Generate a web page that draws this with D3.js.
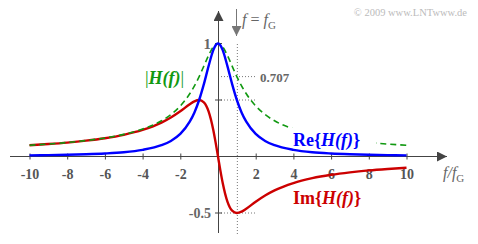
<!DOCTYPE html>
<html>
<head>
<meta charset="utf-8">
<title>H(f) Tiefpass</title>
<script src="https://cdn.jsdelivr.net/npm/d3@7"></script>
<style>
  body { margin: 0; background: #fff; }
  text { font-family: "Liberation Serif", "DejaVu Serif", serif; }
</style>
</head>
<body>
<div id="chart"></div>
<script>
// normalized frequency f/fG and the values
var fx   = [-10, -9, -8, -7, -6, -5, -4, -3, -2.5, -2, -1.5, -1.25, -1, -0.75, -0.5, -0.25, -0.125,
            0, 0.125, 0.25, 0.5, 0.75, 1, 1.25, 1.5, 2, 2.5, 3, 4, 5, 6, 7, 8, 9, 10];
var reH  = [0.010, 0.012, 0.015, 0.020, 0.027, 0.038, 0.059, 0.100, 0.138, 0.200, 0.308, 0.390, 0.500, 0.640, 0.800, 0.941, 0.985,
            1.000, 0.985, 0.941, 0.800, 0.640, 0.500, 0.390, 0.308, 0.200, 0.138, 0.100, 0.059, 0.038, 0.027, 0.020, 0.015, 0.012, 0.010];
var imH  = [0.099, 0.110, 0.123, 0.140, 0.162, 0.192, 0.235, 0.300, 0.345, 0.400, 0.462, 0.488, 0.500, 0.480, 0.400, 0.235, 0.123,
            0.000, -0.123, -0.235, -0.400, -0.480, -0.500, -0.488, -0.462, -0.400, -0.345, -0.300, -0.235, -0.192, -0.162, -0.140, -0.123, -0.110, -0.099];
var absH = [0.0995, 0.110, 0.124, 0.141, 0.164, 0.196, 0.243, 0.316, 0.371, 0.447, 0.555, 0.625, 0.707, 0.800, 0.894, 0.970, 0.992,
            1.000, 0.992, 0.970, 0.894, 0.800, 0.707, 0.625, 0.555, 0.447, 0.371, 0.316, 0.243, 0.196, 0.164, 0.141, 0.124, 0.110, 0.0995];
var xTicks = [-10, -8, -6, -4, -2, 2, 4, 6, 8, 10];

var width = 478, height = 244;
var x = d3.scaleLinear().domain([-10, 10]).range([29.5, 406.5]);
var y = d3.scaleLinear().domain([0, 1]).range([156.5, 43.5]);

var svg = d3.select('#chart').append('svg')
    .attr('width', width)
    .attr('height', height);

var axisCol = '#444', grey = '#666';

// arrow markers
function marker(id, col) {
    svg.append('defs').append('marker')
        .attr('id', id)
        .attr('viewBox', '0 0 10 10')
        .attr('refX', 10).attr('refY', 5)
        .attr('markerWidth', 10).attr('markerHeight', 10)
        .attr('markerUnits', 'userSpaceOnUse')
        .attr('orient', 'auto')
        .append('path').attr('d', 'M0,0 L10,5 L0,10 Z').attr('fill', col);
}
marker('arr', axisCol);
marker('arrG', '#777');

// dotted guide lines
var dot = svg.append('g').attr('stroke', '#777').attr('stroke-width', 1).attr('stroke-dasharray', '1,2');
dot.append('line').attr('x1', x(1) + 0.5).attr('x2', x(1) + 0.5).attr('y1', 44).attr('y2', 234);
dot.append('line').attr('x1', x(0)).attr('x2', 256).attr('y1', y(0.707)).attr('y2', y(0.707));
dot.append('line').attr('x1', x(0)).attr('x2', 256).attr('y1', y(0.5)).attr('y2', y(0.5));
dot.append('line').attr('x1', x(0)).attr('x2', 256).attr('y1', y(-0.5)).attr('y2', y(-0.5));

// axes lines with arrows
svg.append('line').attr('x1', 10).attr('x2', 447).attr('y1', y(0)).attr('y2', y(0))
    .attr('stroke', axisCol).attr('stroke-width', 1).attr('marker-end', 'url(#arr)');
svg.append('line').attr('x1', x(0) + 0.5).attr('x2', x(0) + 0.5).attr('y1', 233).attr('y2', 11)
    .attr('stroke', axisCol).attr('stroke-width', 1).attr('marker-end', 'url(#arr)');

// x axis ticks and labels
var xAxis = svg.append('g')
    .attr('transform', 'translate(0,' + y(0) + ')')
    .call(d3.axisBottom(x).tickValues(xTicks).tickSize(3).tickPadding(10).tickFormat(function(d) { return String(d); }));
xAxis.select('.domain').remove();
xAxis.selectAll('.tick line').attr('y1', -3).attr('stroke', axisCol);
xAxis.selectAll('.tick text')
    .attr('fill', '#555')
    .style('font-family', '"Liberation Serif", serif')
    .style('font-size', '14px')
    .style('font-weight', 'bold');

// y ticks
svg.selectAll('.ytick').data([1, 0.5, -0.5]).enter().append('line')
    .attr('x1', x(0) - 3).attr('x2', x(0) + 4)
    .attr('y1', function(d) { return y(d); }).attr('y2', function(d) { return y(d); })
    .attr('stroke', axisCol);

svg.append('text').attr('x', 211).attr('y', y(1) + 5).attr('text-anchor', 'end')
    .attr('fill', grey).style('font-size', '15px').style('font-weight', 'bold').text('1');
svg.append('text').attr('x', 211).attr('y', y(-0.5) + 5).attr('text-anchor', 'end')
    .attr('fill', grey).style('font-size', '14px').style('font-weight', 'bold').text('-0.5');
svg.append('text').attr('x', 260).attr('y', y(0.707) + 5)
    .attr('fill', grey).style('font-size', '13px').style('font-weight', 'bold').text('0.707');

// f = fG marker
svg.append('line').attr('x1', 236.5).attr('x2', 236.5).attr('y1', 9).attr('y2', 36)
    .attr('stroke', '#777').attr('stroke-width', 1).attr('marker-end', 'url(#arrG)');
var fg = svg.append('text').attr('x', 242).attr('y', 25).attr('fill', grey).style('font-size', '16px');
fg.append('tspan').style('font-style', 'italic').text('f');
fg.append('tspan').text(' = ');
fg.append('tspan').style('font-style', 'italic').text('f');
fg.append('tspan').attr('dy', 4).style('font-size', '11px').text('G');

// axis label f/fG
var fl = svg.append('text').attr('x', 443).attr('y', 178).attr('fill', grey).style('font-size', '16px');
fl.append('tspan').style('font-style', 'italic').text('f/f');
fl.append('tspan').attr('dy', 4).style('font-size', '11px').text('G');

// curves
var pts = function(vals) { return fx.map(function(d, i) { return [d, vals[i]]; }); };
var line = d3.line()
    .x(function(d) { return x(d[0]); })
    .y(function(d) { return y(d[1]); })
    .curve(d3.curveMonotoneX);

svg.append('path').datum(pts(imH)).attr('d', line)
    .attr('fill', 'none').attr('stroke', '#cc0000').attr('stroke-width', 2.4);
svg.append('path').datum(pts(absH)).attr('d', line)
    .attr('fill', 'none').attr('stroke', '#119911').attr('stroke-width', 1.6).attr('stroke-dasharray', '6,4');
// white patch behind the Re label hides the dashed curve there
svg.append('rect').attr('x', 284).attr('y', 128).attr('width', 92).attr('height', 20).attr('fill', '#fff');
svg.append('path').datum(pts(reH)).attr('d', line)
    .attr('fill', 'none').attr('stroke', '#0000ff').attr('stroke-width', 2.4);

// curve labels
function curveLabel(xp, yp, pre, col) {
    var t = svg.append('text').attr('x', xp).attr('y', yp).attr('fill', col).style('font-size', '18px').style('font-weight', 'bold');
    t.append('tspan').text(pre + '{');
    t.append('tspan').style('font-style', 'italic').text('H(f)');
    t.append('tspan').text('}');
}
curveLabel(293, 146, 'Re', '#0000ff');
curveLabel(293, 204, 'Im', '#cc0000');

var ab = svg.append('text').attr('x', 145).attr('y', 84).attr('fill', '#119911').style('font-size', '18px').style('font-weight', 'bold');
ab.append('tspan').style('font-weight', 'normal').text('|');
ab.append('tspan').style('font-style', 'italic').text('H(f)');
ab.append('tspan').style('font-weight', 'normal').text('|');

// copyright
svg.append('text').attr('x', 467).attr('y', 16).attr('text-anchor', 'end')
    .attr('fill', '#bbb').style('font-size', '10.5px').text('\u00A9 2009 www.LNTwww.de');
</script>
</body>
</html>
